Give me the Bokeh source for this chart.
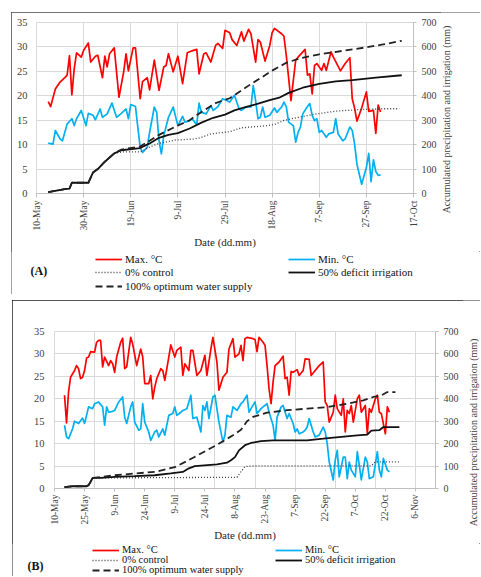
import math
from bokeh.plotting import figure
from bokeh.models import Range1d, LinearAxis, FixedTicker, Legend, LegendItem, Label
from bokeh.layouts import column, row
from bokeh.embed import file_html
from bokeh.resources import INLINE

FONT = "Liberation Serif"
RED = "#ff0000"
BLUE = "#00b0f0"
GRID = "#d9d9d9"

temp_ticks = [0, 5, 10, 15, 20, 25, 30, 35]
acc_ticks = [0, 100, 200, 300, 400, 500, 600, 700]
legend_labels = ["Max. °C", "Min. °C", "0% control", "50% deficit irrigation", "100% optimum water supply"]
x_title = "Date (dd.mm)"
right_title = "Accumulated precipitation and irrigation (mm)"

LINE_STYLES = [
    dict(line_color=RED, line_width=1.7, line_join="round"),
    dict(line_color=BLUE, line_width=1.7, line_join="round"),
    dict(line_color="#404040", line_width=1.3, line_dash="1 2"),
    dict(line_color="#111111", line_width=1.8),
    dict(line_color="#222222", line_width=1.8, line_dash="7 4"),
]

# ---------------- Panel A (days since 10-May) ----------------
a_tick_days = [0, 20, 40, 60, 80, 100, 120, 140, 160]
a_tick_labels = ["10-May", "30-May", "19-Jun", "9-Jul", "29-Jul", "18-Aug", "7-Sep", "27-Sep", "17-Oct"]

a_max_day = [5, 6, 8, 10, 12, 13, 14, 15, 16, 17, 19, 20, 22, 23, 25, 26, 28, 29, 30, 31, 33, 35, 37, 38, 39, 41, 42, 44, 45, 47,
             48, 50, 52, 54, 55, 56, 58, 60, 62, 64, 66, 68, 69, 71, 72, 74, 76, 77, 79, 80, 82, 83, 85, 87, 88, 90, 91, 93, 94, 95,
             97, 99, 100, 101, 104, 105, 106, 108, 110, 111, 114, 115, 116, 117, 118, 119, 121, 122, 123, 125, 126, 129, 131, 133,
             134, 135, 136, 138, 140, 141, 143, 144, 145, 146]
a_max_t = [18.8, 17.8, 21.4, 22.8, 23.7, 24.2, 28.2, 20.2, 25.5, 28.8, 27.9, 29.3, 30.8, 26.9, 28.1, 28.3, 23.7, 28.1, 25.9, 28.6,
           29.8, 19.7, 24.9, 28.6, 25.1, 29.8, 29.8, 19.4, 22.9, 23.7, 21.2, 27.3, 21.1, 25.9, 26.2, 28.6, 24.9, 28.1, 22.5, 28.8,
           29.2, 29.5, 24.5, 28.6, 28.8, 26.9, 30.3, 30.7, 29.7, 33.4, 32.9, 31.5, 30.3, 33.1, 31.2, 33.6, 32.7, 26.9, 31.5, 31.0,
           27.1, 30.3, 32.9, 33.8, 32.7, 32.2, 28.3, 19.0, 27.3, 27.9, 29.5, 24.2, 24.5, 20.4, 26.2, 26.6, 25.2, 26.6, 25.2, 29.0,
           27.9, 25.1, 26.6, 27.8, 19.4, 17.5, 14.8, 17.5, 20.8, 16.8, 17.0, 12.3, 18.1, 16.7]

a_min_day = [5, 7, 8, 10, 11, 12, 13, 15, 16, 17, 19, 21, 22, 24, 25, 27, 28, 30, 32, 34, 36, 38, 39, 40, 42, 43, 44, 45, 47, 48,
             50, 51, 52, 53, 54, 56, 58, 60, 62, 63, 65, 66, 68, 69, 70, 72, 74, 75, 77, 79, 81, 82, 84, 86, 87, 89, 91, 92, 93, 94,
             95, 96, 97, 99, 101, 102, 104, 105, 106, 107, 109, 110, 111, 112, 113, 115, 116, 117, 118, 119, 120, 121, 123, 124,
             126, 127, 128, 130, 131, 133, 134, 135, 136, 138, 140, 141, 142, 143, 144, 145, 146]
a_min_t = [10.3, 10.1, 12.9, 11.2, 10.8, 12.5, 14.2, 15.3, 13.9, 15.3, 17.0, 13.9, 16.4, 16.0, 15.1, 17.3, 15.6, 16.3, 18.5, 15.6,
           16.4, 17.3, 15.3, 18.2, 17.8, 13.6, 9.5, 8.4, 9.5, 12.5, 17.7, 16.6, 10.8, 8.1, 11.8, 15.6, 17.7, 13.9, 15.8, 14.6,
           14.9, 15.3, 14.1, 18.5, 16.6, 16.3, 18.0, 17.0, 17.8, 19.4, 19.0, 18.7, 20.1, 17.3, 17.0, 17.8, 17.7, 22.1, 19.0, 15.3,
           15.6, 17.7, 15.6, 16.0, 17.5, 16.6, 17.7, 18.7, 17.8, 14.6, 13.9, 10.5, 12.5, 13.6, 16.3, 17.8, 18.4, 16.0, 14.9, 15.3,
           12.5, 12.9, 11.5, 12.2, 12.5, 15.3, 12.2, 10.8, 11.2, 13.6, 12.9, 10.1, 6.0, 1.9, 5.3, 8.2, 2.4, 6.9, 4.5, 3.7, 3.8]

a_c0_day = [5, 12, 14, 15, 22, 24, 26, 29, 33, 36, 44, 48, 52, 59, 67, 70, 74, 82, 87, 96, 101, 105, 111, 119, 127, 136, 147, 154]
a_c0 = [6, 18, 20, 44, 44, 86, 100, 130, 164, 170, 170, 190, 205, 219, 223, 230, 244, 253, 269, 276, 282, 299, 312, 326, 337, 343, 347, 347]

a_c50_day = [5, 12, 14, 15, 22, 24, 26, 29, 33, 36, 44, 48, 52, 56, 60, 65, 70, 75, 80, 84, 88, 93, 99, 103, 107, 113, 120, 127, 134, 144, 155]
a_c50 = [6, 18, 20, 44, 44, 86, 100, 130, 164, 177, 186, 205, 228, 240, 247, 266, 290, 310, 323, 340, 352, 365, 382, 392, 412, 433, 449, 459, 464, 474, 484]

a_c100_day = [5, 12, 14, 15, 22, 24, 26, 29, 33, 36, 44, 48, 52, 59, 65, 70, 76, 82, 87, 91, 96, 100, 106, 112, 120, 130, 139, 147, 155]
a_c100 = [6, 18, 20, 44, 44, 86, 100, 130, 164, 180, 192, 216, 240, 274, 300, 334, 370, 390, 422, 448, 478, 503, 535, 554, 570, 584, 597, 610, 625]

# ---------------- Panel B (days since 10-May) ----------------
b_tick_days = [0, 15, 30, 45, 60, 75, 90, 105, 120, 135, 150, 165, 180]
b_tick_labels = ["10-May", "25-May", "9-Jun", "24-Jun", "9-Jul", "24-Jul", "8-Aug", "23-Aug", "7-Sep", "22-Sep", "7-Oct", "22-Oct", "6-Nov"]
b_grid_days = [0, 20, 40, 60, 80, 100, 120, 140, 160, 180]

b_max_day = [5, 6, 7, 8, 10, 11, 12, 13, 14, 15, 16, 17, 18, 20, 21, 22, 23, 24, 25, 27, 28, 29, 30, 31, 33, 34, 35, 36, 38, 39,
             41, 43, 44, 45, 47, 48, 49, 50, 51, 53, 54, 55, 57, 58, 60, 61, 63, 64, 65, 67, 68, 69, 71, 73, 75, 76, 78, 79, 81, 82,
             84, 86, 87, 89, 90, 92, 93, 94, 95, 96, 99, 100, 101, 102, 104, 105, 106, 107, 108, 109, 110, 112, 114, 115, 116, 117,
             118, 119, 121, 122, 124, 125, 127, 128, 130, 132, 134, 135, 136, 137, 139, 140, 141, 143, 144, 145, 146, 147, 148, 149,
             151, 152, 153, 155, 156, 157, 158, 160, 161, 162, 163, 165, 166, 167]
b_max_t = [20.8, 14.6, 21.5, 24.8, 26.3, 27.4, 26.7, 24.5, 24.8, 26.3, 29.1, 29.3, 30.5, 30.4, 32.6, 33.0, 33.0, 27.1, 29.3, 27.4,
           28.5, 27.8, 25.9, 29.3, 32.6, 33.5, 26.7, 27.1, 33.7, 32.2, 27.4, 31.1, 29.3, 23.4, 23.4, 25.2, 20.0, 22.6, 24.5, 26.7,
           26.3, 24.1, 29.3, 32.0, 29.3, 30.8, 31.5, 25.2, 27.8, 26.3, 30.8, 30.8, 25.2, 26.3, 29.7, 25.2, 31.1, 33.7, 28.2, 21.9,
           24.8, 25.9, 31.1, 33.4, 29.3, 30.0, 31.9, 28.5, 33.4, 33.7, 33.4, 33.2, 30.5, 33.7, 32.6, 31.9, 27.4, 22.2, 18.9, 23.7,
           27.4, 28.2, 29.5, 24.5, 24.8, 20.8, 26.1, 25.9, 26.5, 25.2, 26.3, 28.9, 28.8, 25.2, 26.3, 27.4, 28.2, 19.3, 18.5, 14.8,
           17.0, 20.8, 17.8, 16.3, 20.0, 12.6, 17.4, 16.7, 18.5, 14.8, 20.0, 20.8, 17.0, 18.5, 12.2, 17.8, 17.0, 20.0, 20.8, 17.0,
           16.7, 12.2, 18.2, 17.0]

b_min_day = [5, 6, 7, 9, 10, 12, 14, 15, 17, 19, 20, 22, 24, 25, 26, 27, 29, 30, 32, 34, 35, 36, 38, 39, 40, 42, 43, 44, 45, 47,
             48, 50, 51, 52, 54, 55, 57, 59, 60, 61, 63, 64, 66, 68, 69, 71, 73, 74, 75, 76, 77, 79, 80, 82, 84, 85, 86, 88, 89, 91,
             93, 94, 96, 97, 98, 100, 101, 103, 104, 106, 107, 109, 110, 111, 113, 114, 116, 117, 119, 120, 121, 122, 124, 125, 126,
             127, 129, 130, 132, 134, 135, 136, 137, 139, 140, 141, 142, 144, 145, 146, 147, 148, 150, 151, 152, 153, 155, 156, 157,
             159, 161, 162, 163, 164, 166, 167]
b_min_t = [14.1, 11.5, 11.1, 13.3, 15.0, 14.5, 15.7, 14.5, 18.2, 17.8, 18.9, 19.3, 18.2, 14.1, 18.2, 17.0, 17.2, 17.4, 19.3, 20.4,
           15.9, 14.5, 18.2, 19.3, 14.8, 13.0, 13.3, 18.9, 14.8, 12.6, 10.7, 12.6, 13.0, 11.5, 13.3, 11.9, 16.3, 16.7, 18.2, 16.3,
           17.0, 17.4, 17.8, 20.8, 15.6, 15.9, 12.6, 18.5, 17.4, 19.3, 15.6, 20.4, 20.8, 14.8, 10.4, 11.9, 16.3, 15.9, 18.2, 17.4,
           18.9, 19.3, 20.8, 17.0, 17.8, 19.3, 16.7, 17.8, 18.2, 18.9, 17.0, 14.1, 10.7, 15.9, 18.2, 18.5, 15.6, 16.7, 14.5, 12.6,
           13.3, 12.2, 12.6, 13.0, 13.7, 15.6, 12.6, 11.5, 11.9, 13.7, 12.6, 10.0, 5.9, 1.9, 6.3, 8.5, 2.6, 7.0, 7.0, 2.2,
           5.9, 4.1, 2.6, 8.2, 5.2, 1.9, 7.0, 5.9, 2.2, 2.6, 8.2, 4.1, 2.6, 6.7, 4.1, 3.7]

b_c0_day = [5, 9, 16, 17, 18, 19, 91, 93, 95, 100, 158, 160, 172]
b_c0 = [6, 10, 10, 15, 30, 47, 50, 75, 98, 101, 101, 119, 119]

b_c50_day = [5, 9, 16, 17, 18, 19, 23, 30, 40, 50, 58, 64, 67, 70, 81, 86, 88, 90, 92, 95, 98, 103, 109, 126, 134, 143, 151, 156,
             158, 162, 164, 172]
b_c50 = [6, 10, 10, 15, 30, 47, 47, 52, 55, 59, 67, 74, 90, 100, 108, 115, 126, 140, 170, 193, 203, 211, 215, 215, 222, 230, 237,
         240, 258, 260, 274, 274]

b_c100_day = [5, 9, 16, 17, 18, 19, 30, 40, 50, 60, 66, 73, 81, 89, 93, 96, 99, 106, 116, 126, 136, 146, 154, 159, 163, 166, 170]
b_c100 = [6, 10, 10, 15, 30, 47, 59, 67, 74, 95, 122, 156, 195, 237, 262, 300, 319, 338, 349, 356, 363, 378, 393, 408, 415, 430, 430]

# legend-key sample renderers sit outside the visible range of the legend strip
key_x = [-2, -1]
key_y = [-2, -2]


def make_plot(w, h, borders, x_end, tick_days, tick_labels, grid_days, series, g):
    lb, rb, tb, bb = borders
    p = figure(width=w, height=h, x_range=Range1d(0, x_end), y_range=Range1d(0, 35),
               output_backend="svg", toolbar_location=None, title=None,
               min_border_left=lb, min_border_right=rb, min_border_top=tb, min_border_bottom=bb,
               background_fill_color="white", border_fill_color="white", outline_line_color=GRID,
               frame_align=False)
    p.extra_y_ranges = {"acc": Range1d(0, 700)}

    p.xgrid.ticker = FixedTicker(ticks=grid_days)
    p.ygrid.ticker = FixedTicker(ticks=temp_ticks)
    p.grid.grid_line_color = GRID
    p.grid.grid_line_width = 1

    xa = p.xaxis[0]
    xa.ticker = FixedTicker(ticks=tick_days)
    xa.major_label_overrides = {d: l for d, l in zip(tick_days, tick_labels)}
    xa.major_label_orientation = math.pi / 2
    xa.major_label_text_font = FONT
    xa.major_label_text_font_size = "9.5px"
    xa.major_label_text_color = "#404040"
    xa.major_label_standoff = g["xstand"]
    xa.major_tick_out = g["xtick"]
    xa.major_tick_in = 0
    xa.minor_tick_line_color = None
    xa.axis_line_color = "#bfbfbf"
    xa.major_tick_line_color = "#bfbfbf"
    xa.axis_label = x_title
    xa.axis_label_text_font = FONT
    xa.axis_label_text_font_size = "11px"
    xa.axis_label_text_font_style = "normal"
    xa.axis_label_text_color = "#262626"
    xa.axis_label_standoff = g["xlab"]

    ya = p.yaxis[0]
    ya.ticker = FixedTicker(ticks=temp_ticks)
    ya.major_label_text_font = FONT
    ya.major_label_text_font_size = "10.5px"
    ya.major_label_text_color = "#404040"
    ya.major_tick_out = 0
    ya.major_tick_in = 0
    ya.major_tick_line_color = None
    ya.minor_tick_line_color = None
    ya.axis_line_color = None
    ya.major_label_standoff = g["ystand"]

    ra = LinearAxis(y_range_name="acc", ticker=FixedTicker(ticks=acc_ticks))
    ra.major_label_text_font = FONT
    ra.major_label_text_font_size = "10px"
    ra.major_label_text_color = "#404040"
    ra.major_tick_out = 3
    ra.major_tick_in = 0
    ra.minor_tick_line_color = None
    ra.axis_line_color = "#bfbfbf"
    ra.major_tick_line_color = "#bfbfbf"
    ra.major_label_standoff = g["rstand"]
    p.add_layout(ra, "right")

    (tmax_d, tmax), (tmin_d, tmin), (c0_d, c0), (c50_d, c50), (c100_d, c100) = series
    p.line(tmax_d, tmax, **LINE_STYLES[0])
    p.line(tmin_d, tmin, **LINE_STYLES[1])
    p.line(c0_d, c0, y_range_name="acc", **LINE_STYLES[2])
    p.line(c50_d, c50, y_range_name="acc", **LINE_STYLES[3])
    p.line(c100_d, c100, y_range_name="acc", **LINE_STYLES[4])
    return p


def blank(w, h):
    return figure(width=w, height=h, x_range=Range1d(0, 1), y_range=Range1d(0, 1),
                  x_axis_type=None, y_axis_type=None, output_backend="svg", toolbar_location=None,
                  title=None, min_border=0, min_border_left=0, min_border_right=0,
                  min_border_top=0, min_border_bottom=0, outline_line_color=None,
                  background_fill_color="white", border_fill_color="white", frame_align=False)


def make_title_strip(w, h, x, y):
    t = blank(w, h)
    t.add_layout(Label(x=x, y=y, x_units="screen", y_units="screen", text=right_title,
                       angle=math.pi / 2, text_font=FONT, text_font_size="10px",
                       text_align="center", text_baseline="middle", text_color="#404040"))
    return t


def make_legend_strip(w, h, tag, tag_xy, positions, font_size):
    q = blank(w, h)
    keys = [q.line(key_x, key_y, **st) for st in LINE_STYLES]
    for lab, r, (vx, vy) in zip(legend_labels, keys, positions):
        lg = Legend(items=[LegendItem(label=lab, renderers=[r])], location=(vx, vy),
                    padding=0, margin=0, spacing=0, glyph_width=27, glyph_height=12,
                    label_height=12, label_standoff=3, label_text_font=FONT,
                    label_text_font_size=font_size, label_text_color="#111111",
                    border_line_color=None, background_fill_alpha=0)
        q.add_layout(lg, "center")
    q.add_layout(Label(x=tag_xy[0], y=tag_xy[1], x_units="screen", y_units="screen", text=tag,
                       text_font=FONT, text_font_size="12px", text_font_style="bold",
                       text_align="left", text_baseline="middle", text_color="#111111"))
    return q


series_a = [(a_max_day, a_max_t), (a_min_day, a_min_t), (a_c0_day, a_c0), (a_c50_day, a_c50), (a_c100_day, a_c100)]
series_b = [(b_max_day, b_max_t), (b_min_day, b_min_t), (b_c0_day, b_c0), (b_c50_day, b_c50), (b_c100_day, b_c100)]

# Panel A box: x 11..480, y 12..294 ; frame x 36..413, y 22..193
pa = make_plot(429, 239, (25, 27, 10, 58), 160, a_tick_days, a_tick_labels, a_tick_days, series_a,
               {"xstand": 3, "xtick": 4, "xlab": 2, "ystand": 9, "rstand": 5})
ta = make_title_strip(40, 239, 6, 132)
la = make_legend_strip(469, 43, "(A)", (19, 24),
                       [(84, 29), (277, 29), (84, 16), (277, 16), (84, 2)], "11px")
col_a = column(row(pa, ta, spacing=0), la, spacing=0, margin=(12, 0, 0, 11),
               styles={"outline": "1px solid #444444", "outline-offset": "-1px"})

# Panel B box: x 12..480, y 300..576 ; frame x 54..435, y 331..488
pb = make_plot(450, 243, (42, 27, 31, 55), 190, b_tick_days, b_tick_labels, b_grid_days, series_b,
               {"xstand": 3, "xtick": 3, "xlab": 1, "ystand": 10, "rstand": 5})
tb = make_title_strip(18, 243, 11, 111)
lb_ = make_legend_strip(468, 33, "(B)", (15, 11),
                        [(80, 20.5), (263, 20.5), (80, 10.5), (263, 10.5), (80, 0.5)], "10.5px")
col_b = column(row(pb, tb, spacing=0), lb_, spacing=0, margin=(6, 0, 0, 12),
               styles={"outline": "1px solid #222222", "outline-offset": "-1px"})

layout = column(col_a, col_b, spacing=0)
open("out.html", "w").write(file_html(layout, INLINE))
